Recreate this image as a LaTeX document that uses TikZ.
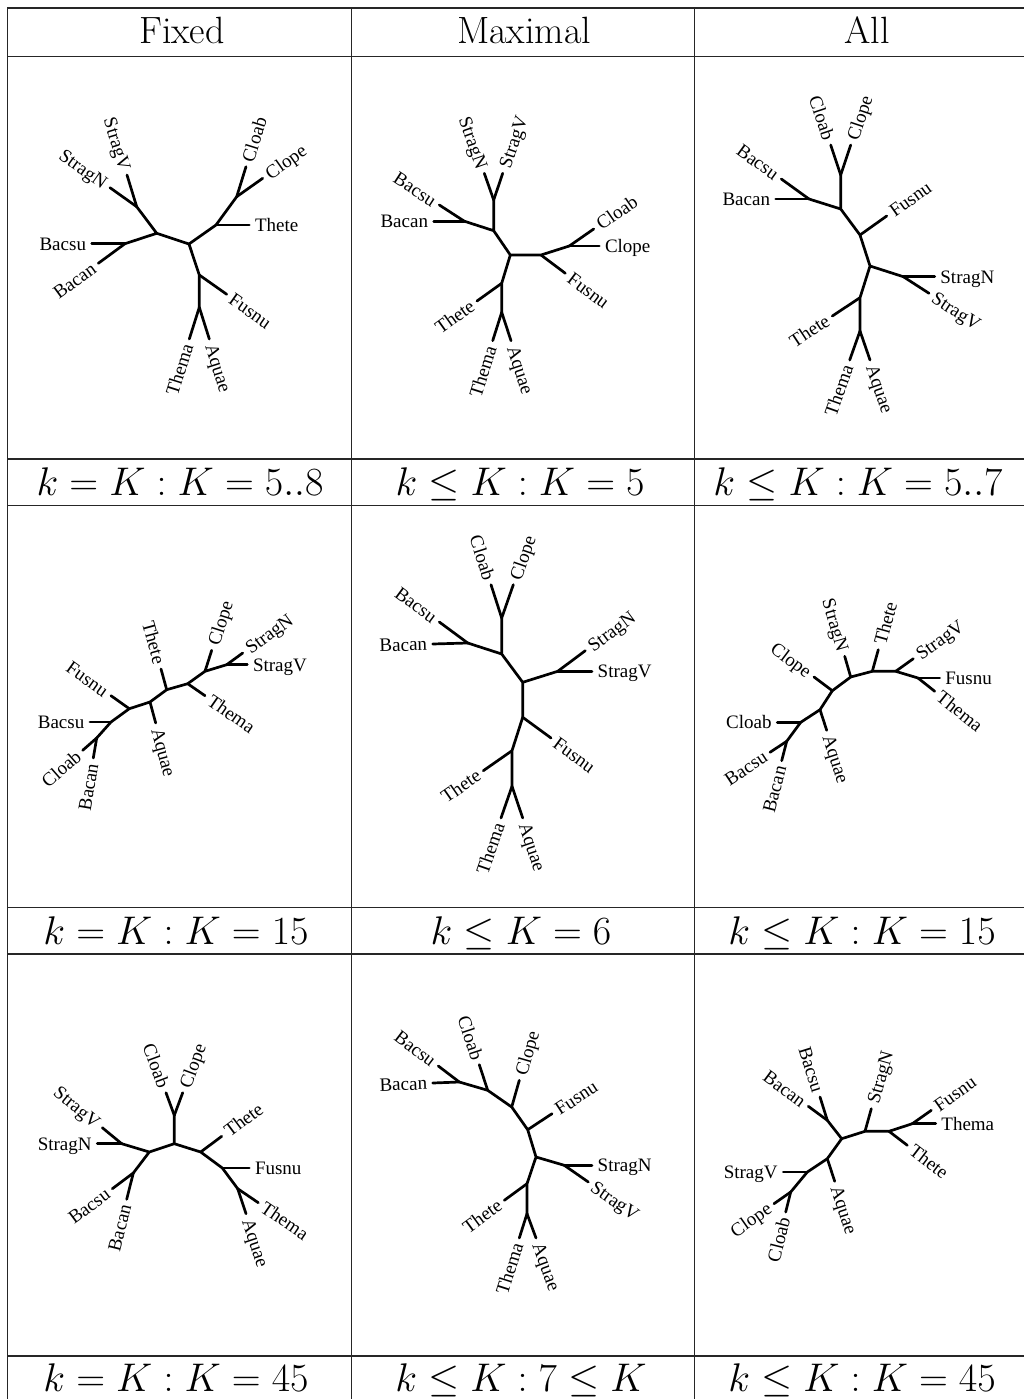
\documentclass[tikz,border=0pt]{standalone}
\usepackage{fix-cm}
\usepackage{fontspec}
\newfontfamily\lblfont{Liberation Serif}
\usetikzlibrary{calc}
\tikzset{
  edge/.style={line width=2.7pt,line cap=round,line join=round},
  lab/.style={font=\lblfont\fontsize{19}{23}\selectfont, inner sep=5.5pt, text height=12.6pt, text depth=0pt},
  gridline/.style={line width=1.2pt, draw=black!85},
  head/.style={font=\fontsize{38}{44}\selectfont, anchor=base, inner sep=0pt},
  capt/.style={font=\fontsize{40}{48}\selectfont, anchor=base, inner sep=0pt},
}
\newcommand\lfR[4]{%
  \coordinate (#2) at (#3);
  \draw[edge] (#1) -- (#2);
  \path let \p1=(#1), \p2=(#2), \n1={atan2(\y2-\y1,\x2-\x1)} in
    node[lab,anchor=west,rotate=\n1] (#2-l) at (#2) {#4};}
\newcommand\lfL[4]{%
  \coordinate (#2) at (#3);
  \draw[edge] (#1) -- (#2);
  \path let \p1=(#1), \p2=(#2), \n1={atan2(\y2-\y1,\x2-\x1)+180} in
    node[lab,anchor=east,rotate=\n1] (#2-l) at (#2) {#4};}
\begin{document}
\begin{tikzpicture}[x=1pt,y=-1pt]
\useasboundingbox[fill=white] (0,0) rectangle (1024,1399);
% ---------- table grid ----------
\foreach \yy in {8,56.7,459,505.5,907.5,954,1356}
  \draw[gridline] (7.3,\yy) -- (1024,\yy);
\foreach \xx in {7.3,351.5,694.5}
  \draw[gridline] (\xx,8) -- (\xx,1399);
% ---------- headers ----------
\node[head] (h1) at (182,44) {Fixed};
\node[head] (h2) at (524,44) {Maximal};
\node[head] (h3) at (867,44) {All};
% ---------- captions ----------
\node[capt] (c11) at (180,495) {$k = K : K = 5..8$};
\node[capt] (c12) at (520,495) {$k \leq K : K = 5$};
\node[capt] (c13) at (858,495) {$k \leq K : K = 5..7$};
\node[capt] (c21) at (176,944) {$k = K : K = 15$};
\node[capt] (c22) at (521,944) {$k \leq K = 6$};
\node[capt] (c23) at (862,944) {$k \leq K : K = 15$};
\node[capt] (c31) at (176,1391) {$k = K : K = 45$};
\node[capt] (c32) at (521,1391) {$k \leq K : 7 \leq K$};
\node[capt] (c33) at (862,1391) {$k \leq K : K = 45$};
% ---------- tree 1 ----------
\coordinate (1A) at (156.7,233.3);
\coordinate (1B) at (189,244);
\coordinate (1C) at (136.7,206.7);
\coordinate (1D) at (125,243.7);
\coordinate (1E) at (216,225);
\coordinate (1F) at (236.7,196.7);
\coordinate (1G) at (199.3,275);
\coordinate (1H) at (199.3,307.3);
\draw[edge] (1C)--(1A)--(1B)--(1E)--(1F) (1A)--(1D) (1B)--(1G)--(1H);
\lfL{1C}{1-StragN}{110,187.7}{StragN}
\lfL{1C}{1-StragV}{127,175}{StragV}
\lfL{1D}{1-Bacsu}{91.7,243.7}{Bacsu}
\lfL{1D}{1-Bacan}{98.3,263.3}{Bacan}
\lfR{1E}{1-Thete}{249.3,225}{Thete}
\lfR{1F}{1-Cloab}{246,166.7}{Cloab}
\lfR{1F}{1-Clope}{262.7,178.3}{Clope}
\lfR{1G}{1-Fusnu}{226.7,294.3}{Fusnu}
\lfL{1H}{1-Thema}{189.3,339}{Thema}
\lfR{1H}{1-Aquae}{209.3,339}{Aquae}
% ---------- tree 2 ----------
\coordinate (2A) at (493.7,230.7);
\coordinate (2B) at (510.3,255);
\coordinate (2C) at (493.7,200);
\coordinate (2D) at (464.3,221.2);
\coordinate (2E) at (541,255);
\coordinate (2F) at (569.3,246);
\coordinate (2G) at (501.7,283.3);
\coordinate (2H) at (501.7,312.3);
\draw[edge] (2C)--(2A)--(2B)--(2E)--(2F) (2A)--(2D) (2B)--(2G)--(2H);
\lfL{2C}{2-StragN}{484.3,173.3}{StragN}
\lfR{2C}{2-StragV}{502.7,173.3}{StragV}
\lfL{2D}{2-Bacsu}{439.3,205}{Bacsu}
\lfL{2D}{2-Bacan}{433.7,221.2}{Bacan}
\lfR{2E}{2-Fusnu}{565.3,273.3}{Fusnu}
\lfR{2F}{2-Cloab}{593.7,229}{Cloab}
\lfR{2F}{2-Clope}{599.3,246}{Clope}
\lfL{2G}{2-Thete}{477,301}{Thete}
\lfL{2H}{2-Thema}{492.7,340.7}{Thema}
\lfR{2H}{2-Aquae}{511,340.7}{Aquae}
% ---------- tree 3 ----------
\coordinate (3A) at (840.7,209);
\coordinate (3C) at (840.7,175);
\coordinate (3D) at (809,199);
\coordinate (3E) at (860,235);
\coordinate (3B) at (870,266);
\coordinate (3F) at (903.3,276.7);
\coordinate (3G) at (860,297.7);
\coordinate (3H) at (860,331);
\draw[edge] (3C)--(3A)--(3E)--(3B)--(3F) (3A)--(3D) (3B)--(3G)--(3H);
\lfL{3C}{3-Cloab}{830.7,145}{Cloab}
\lfR{3C}{3-Clope}{850.7,145}{Clope}
\lfL{3D}{3-Bacsu}{781.3,179}{Bacsu}
\lfL{3D}{3-Bacan}{775.7,199}{Bacan}
\lfR{3E}{3-Fusnu}{886.7,216}{Fusnu}
\lfR{3F}{3-StragN}{934.7,276.7}{StragN}
\lfR{3F}{3-StragV}{929,293.3}{StragV}
\lfL{3G}{3-Thete}{832.3,316}{Thete}
\lfL{3H}{3-Thema}{849.7,360}{Thema}
\lfR{3H}{3-Aquae}{870,360}{Aquae}
% ---------- tree 4 ----------
\coordinate (4P1) at (96.7,738);
\coordinate (4P2) at (111,722);
\coordinate (4P3) at (129.3,708.7);
\coordinate (4P4) at (150,702);
\coordinate (4P5) at (166.7,689.7);
\coordinate (4P6) at (187.7,683.7);
\coordinate (4P7) at (205,671.3);
\coordinate (4P8) at (226.7,664.7);
\draw[edge] (4P1)--(4P2)--(4P3)--(4P4)--(4P5)--(4P6)--(4P7)--(4P8);
\lfL{4P1}{4-Bacan}{93.3,758}{Bacan}
\lfL{4P1}{4-Cloab}{82.7,750.3}{Cloab}
\lfL{4P2}{4-Bacsu}{90,722}{Bacsu}
\lfL{4P3}{4-Fusnu}{111,695.7}{Fusnu}
\lfR{4P4}{4-Aquae}{155.7,723}{Aquae}
\lfL{4P5}{4-Thete}{161,669}{Thete}
\lfR{4P6}{4-Thema}{205,695.7}{Thema}
\lfR{4P7}{4-Clope}{211.7,650.3}{Clope}
\lfR{4P8}{4-StragN}{242.7,653}{StragN}
\lfR{4P8}{4-StragV}{247.3,664.7}{StragV}
% ---------- tree 5 ----------
\coordinate (5A) at (501.7,654);
\coordinate (5C) at (501.7,618);
\coordinate (5D) at (467.7,643);
\coordinate (5B) at (522.7,682.3);
\coordinate (5E) at (557.7,671.3);
\coordinate (5G) at (522.7,717.3);
\coordinate (5H) at (512,750.7);
\coordinate (5I) at (512,786.3);
\draw[edge] (5C)--(5A)--(5B)--(5E) (5A)--(5D) (5B)--(5G)--(5H)--(5I);
\lfL{5C}{5-Cloab}{491,584.7}{Cloab}
\lfR{5C}{5-Clope}{513.3,584.7}{Clope}
\lfL{5D}{5-Bacsu}{439.3,622}{Bacsu}
\lfL{5D}{5-Bacan}{432.7,644}{Bacan}
\lfR{5E}{5-StragN}{585.3,650.7}{StragN}
\lfR{5E}{5-StragV}{592,671.3}{StragV}
\lfR{5G}{5-Fusnu}{551,738}{Fusnu}
\lfL{5H}{5-Thete}{483.3,770.7}{Thete}
\lfL{5I}{5-Thema}{501,818}{Thema}
\lfR{5I}{5-Aquae}{522.7,818}{Aquae}
% ---------- tree 6 ----------
\coordinate (6P1) at (786.7,741.3);
\coordinate (6P2) at (800.7,722.3);
\coordinate (6P3) at (820,709.7);
\coordinate (6P4) at (832.3,690.7);
\coordinate (6P5) at (850.7,677);
\coordinate (6P6) at (872.3,671.3);
\coordinate (6P7) at (895.7,671.3);
\coordinate (6P8) at (918,678);
\draw[edge] (6P1)--(6P2)--(6P3)--(6P4)--(6P5)--(6P6)--(6P7)--(6P8);
\lfL{6P1}{6-Bacsu}{770,752.3}{Bacsu}
\lfL{6P1}{6-Bacan}{781.7,760.7}{Bacan}
\lfL{6P2}{6-Cloab}{777.3,722.3}{Cloab}
\lfR{6P3}{6-Aquae}{826.7,730.3}{Aquae}
\lfL{6P4}{6-Clope}{814,677}{Clope}
\lfL{6P5}{6-StragN}{844.7,656.3}{StragN}
\lfR{6P6}{6-Thete}{878.3,649.7}{Thete}
\lfR{6P7}{6-StragV}{913.3,658.7}{StragV}
\lfR{6P8}{6-Fusnu}{939.7,678}{Fusnu}
\lfR{6P8}{6-Thema}{934.7,691.3}{Thema}
% ---------- tree 7 ----------
\coordinate (7Q) at (174.3,1143.7);
\coordinate (7C) at (174.3,1115.3);
\coordinate (7L1) at (149.3,1152);
\coordinate (7L2) at (121.7,1143.7);
\coordinate (7L3) at (133.3,1173);
\coordinate (7R1) at (200.7,1152);
\coordinate (7R2) at (222.3,1168);
\coordinate (7R3) at (237.7,1188.7);
\draw[edge] (7C)--(7Q) (7L2)--(7L1)--(7Q)--(7R1)--(7R2)--(7R3) (7L1)--(7L3);
\lfL{7C}{7-Cloab}{166,1092.7}{Cloab}
\lfR{7C}{7-Clope}{182.7,1092.7}{Clope}
\lfL{7L2}{7-StragN}{97.3,1143.7}{StragN}
\lfL{7L2}{7-StragV}{102.3,1127.7}{StragV}
\lfL{7L3}{7-Bacsu}{112.3,1188.7}{Bacsu}
\lfL{7L3}{7-Bacan}{126.7,1199.3}{Bacan}
\lfR{7R1}{7-Thete}{221.7,1136.3}{Thete}
\lfR{7R2}{7-Fusnu}{249.3,1168}{Fusnu}
\lfR{7R3}{7-Thema}{258.3,1202.7}{Thema}
\lfR{7R3}{7-Aquae}{246,1213.7}{Aquae}
% ---------- tree 8 ----------
\coordinate (8P1) at (459.3,1082);
\coordinate (8P2) at (487.7,1090.3);
\coordinate (8P3) at (511.7,1107);
\coordinate (8P4) at (527.7,1129.7);
\coordinate (8P5) at (536,1157);
\coordinate (8P6) at (564.3,1165.3);
\coordinate (8P7) at (527,1183.7);
\coordinate (8P8) at (527,1213.7);
\draw[edge] (8P1)--(8P2)--(8P3)--(8P4)--(8P5)--(8P6) (8P5)--(8P7)--(8P8);
\lfL{8P1}{8-Bacsu}{438.3,1066}{Bacsu}
\lfL{8P1}{8-Bacan}{432.7,1083}{Bacan}
\lfL{8P2}{8-Cloab}{479.3,1064.7}{Cloab}
\lfR{8P3}{8-Clope}{519.3,1080.3}{Clope}
\lfR{8P4}{8-Fusnu}{552,1113.7}{Fusnu}
\lfR{8P6}{8-StragN}{592,1165.3}{StragN}
\lfR{8P6}{8-StragV}{588.3,1182}{StragV}
\lfL{8P7}{8-Thete}{504.3,1200.3}{Thete}
\lfL{8P8}{8-Thema}{519.3,1238}{Thema}
\lfR{8P8}{8-Aquae}{536,1238}{Aquae}
% ---------- tree 9 ----------
\coordinate (9P1) at (790.7,1192);
\coordinate (9P2) at (807.3,1172);
\coordinate (9P3) at (827.3,1158.7);
\coordinate (9P4) at (841.7,1138.7);
\coordinate (9P5) at (827.3,1120.3);
\coordinate (9P6) at (865,1131.3);
\coordinate (9P7) at (889,1131.3);
\coordinate (9P8) at (912.3,1123.7);
\draw[edge] (9P1)--(9P2)--(9P3)--(9P4)--(9P6)--(9P7)--(9P8) (9P4)--(9P5);
\lfL{9P1}{9-Clope}{774,1203.7}{Clope}
\lfL{9P1}{9-Cloab}{785.7,1212}{Cloab}
\lfL{9P2}{9-StragV}{783.3,1172}{StragV}
\lfR{9P3}{9-Aquae}{834.7,1181.3}{Aquae}
\lfL{9P5}{9-Bacan}{808.3,1106.3}{Bacan}
\lfL{9P5}{9-Bacsu}{820,1097}{Bacsu}
\lfR{9P6}{9-StragN}{871.3,1108.7}{StragN}
\lfR{9P7}{9-Thete}{907.3,1145.3}{Thete}
\lfR{9P8}{9-Fusnu}{931.3,1110.3}{Fusnu}
\lfR{9P8}{9-Thema}{935.7,1123.7}{Thema}
\end{tikzpicture}
\end{document}
